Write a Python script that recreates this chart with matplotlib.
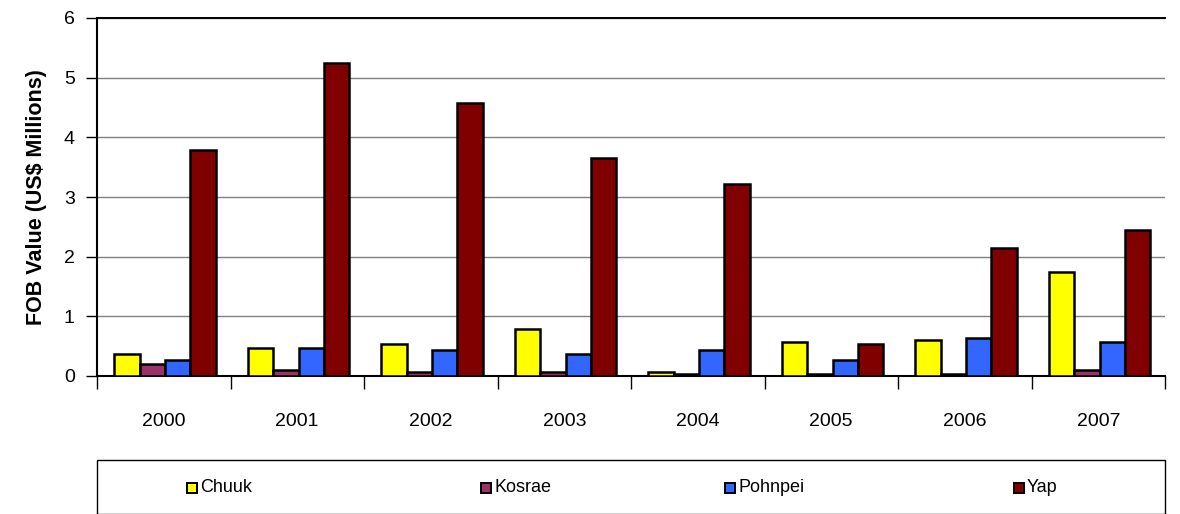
import numpy as np
import matplotlib.pyplot as plt
from matplotlib.patches import Rectangle

plt.rcParams['font.family'] = ['Liberation Sans', 'DejaVu Sans']

years = ["2000", "2001", "2002", "2003", "2004", "2005", "2006", "2007"]
states = ["Chuuk", "Kosrae", "Pohnpei", "Yap"]
colors = ["#FFFF00", "#993366", "#3366FF", "#800000"]

chuuk = [0.37, 0.47, 0.54, 0.79, 0.07, 0.57, 0.60, 1.74]
kosrae = [0.20, 0.10, 0.07, 0.07, 0.03, 0.03, 0.03, 0.10]
pohnpei = [0.27, 0.47, 0.44, 0.37, 0.44, 0.27, 0.64, 0.57]
yap = [3.79, 5.25, 4.58, 3.65, 3.22, 0.54, 2.14, 2.45]
series = [chuuk, kosrae, pohnpei, yap]

W, H = 1180, 514
fig = plt.figure(figsize=(W / 100, H / 100), dpi=100)
ax = fig.add_axes([97 / W, 1 - 376 / H, (1165 - 97) / W, (376 - 18) / H])

x = np.arange(len(years))
bw = 0.19
for i, (vals, c) in enumerate(zip(series, colors)):
    ax.bar(x + (i - 1.5) * bw + 0.01, vals, bw, color=c, edgecolor="black", linewidth=1.8, zorder=3)

ax.set_xlim(-0.5, len(years) - 0.5)
ax.set_ylim(0, 6)
ax.set_yticks(range(7))
ax.tick_params(axis="y", labelsize=14, length=8, width=1, pad=8)
ax.set_xticks(x)
ax.set_xticklabels(years)
ax.tick_params(axis="x", labelsize=14, length=0, pad=27)
ax.set_xticks(np.arange(len(years) + 1) - 0.5, minor=True)
ax.tick_params(axis="x", which="minor", length=9, width=1)
ax.yaxis.grid(True, color="#808080", linewidth=1, zorder=0)
for s in ["right", "top"]:
    ax.spines[s].set_visible(False)
ax.axhline(6, color="black", linewidth=1.4, zorder=4, clip_on=False)
ax.spines["left"].set_linewidth(1.5)
ax.spines["bottom"].set_linewidth(1.5)
ax.set_ylabel("FOB Value (US$ Millions)", fontsize=15.5, fontweight="bold", labelpad=12)

# legend box
fig.patches.append(Rectangle((97 / W, 0), (1165 - 97) / W, (514 - 460) / H,
                             transform=fig.transFigure, facecolor="white",
                             edgecolor="black", linewidth=1))
leg_x = [187, 481, 725, 1014]
for lx, name, c in zip(leg_x, states, colors):
    fig.patches.append(Rectangle((lx / W, 1 - 493 / H), 10 / W, 10 / H,
                                 transform=fig.transFigure, facecolor=c,
                                 edgecolor="black", linewidth=1.4))
    fig.text((lx + 13) / W, 1 - 488 / H, name, fontsize=13, va="center", ha="left")

fig.savefig("out.png", dpi=100)
